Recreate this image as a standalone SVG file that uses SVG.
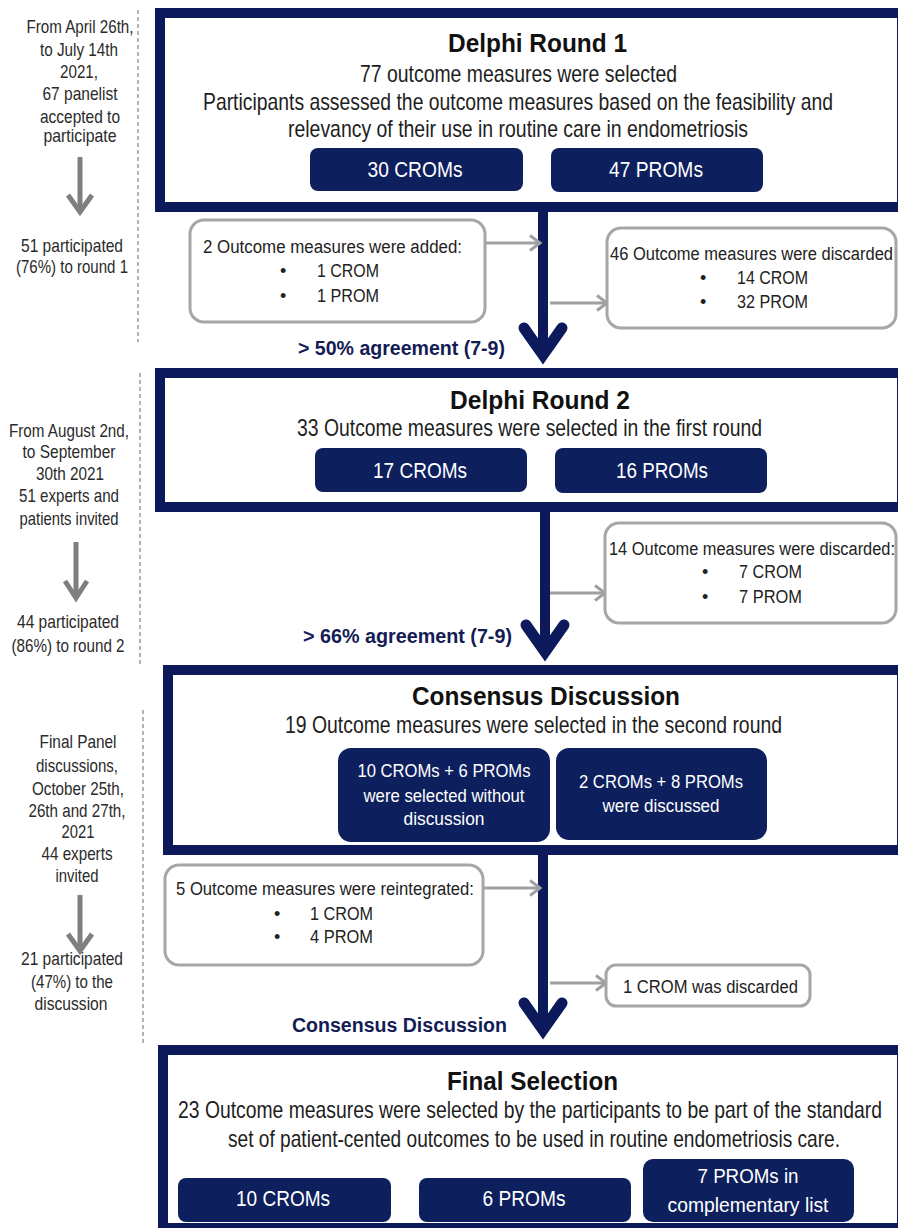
<svg xmlns="http://www.w3.org/2000/svg" width="898" height="1228" viewBox="0 0 898 1228">
<style>
text{font-family:"Liberation Sans",Arial,sans-serif}
.box{fill:#fff;stroke:#0c1a5b;stroke-width:10}
.side{fill:#fff;stroke:#a6a6a6;stroke-width:3}
.pill{fill:#0e1f5e}
.t{font-size:24px;fill:#1e1e1e}
.h{font-size:25px;font-weight:bold;fill:#111}
.s{font-size:18px;fill:#222}
.l{font-size:18.5px;fill:#2a2a2a;text-anchor:middle}
.pt{font-size:22px;fill:#fff;text-anchor:middle}
.pm{font-size:18px;fill:#fff;text-anchor:middle}
.lab{font-size:20px;font-weight:bold;fill:#131c55}
.dash{stroke:#9a9a9a;stroke-width:1.5;stroke-dasharray:4 3;fill:none}
.garr{stroke:#a0a0a0;stroke-width:3;fill:none;marker-end:url(#chev)}
.shaft{stroke:#0c1a5b;stroke-width:10;fill:none}
.vhead{stroke:#0c1a5b;stroke-width:11;fill:none;stroke-linecap:round;stroke-linejoin:miter;stroke-miterlimit:10}
.larr{stroke:#7f7f7f;stroke-width:5;fill:none}
</style>
<defs>
<marker id="chev" markerUnits="userSpaceOnUse" markerWidth="14" markerHeight="18" refX="11" refY="9" orient="auto">
<path d="M1,1.5 L11,9 L1,16.5" fill="none" stroke="#a0a0a0" stroke-width="3"/>
</marker>
</defs>
<rect width="898" height="1228" fill="#fff"/>

<g id="timeline">
<line class="dash" x1="138" y1="10" x2="138" y2="342"/>
<line class="dash" x1="140" y1="373" x2="140" y2="667"/>
<line class="dash" x1="143" y1="710" x2="143" y2="1045"/>
<text class="l" x="80" y="33" textLength="107" lengthAdjust="spacingAndGlyphs">From April 26th,</text>
<text class="l" x="79" y="56" textLength="78" lengthAdjust="spacingAndGlyphs">to July 14th</text>
<text class="l" x="79" y="78" textLength="38" lengthAdjust="spacingAndGlyphs">2021,</text>
<text class="l" x="80" y="100" textLength="75" lengthAdjust="spacingAndGlyphs">67 panelist</text>
<text class="l" x="80" y="123" textLength="80" lengthAdjust="spacingAndGlyphs">accepted to</text>
<text class="l" x="80" y="142" textLength="73" lengthAdjust="spacingAndGlyphs">participate</text>
<line class="larr" x1="80" y1="157" x2="80" y2="211"/>
<polyline class="larr" points="68,195 80,212 92,195"/>
<text class="l" x="72" y="252" textLength="102" lengthAdjust="spacingAndGlyphs">51 participated</text>
<text class="l" x="72" y="273" textLength="112" lengthAdjust="spacingAndGlyphs">(76%) to round 1</text>

<text class="l" x="69" y="437" textLength="120" lengthAdjust="spacingAndGlyphs">From August 2nd,</text>
<text class="l" x="69" y="458" textLength="93" lengthAdjust="spacingAndGlyphs">to September</text>
<text class="l" x="70" y="480" textLength="68" lengthAdjust="spacingAndGlyphs">30th 2021</text>
<text class="l" x="69" y="502" textLength="100" lengthAdjust="spacingAndGlyphs">51 experts and</text>
<text class="l" x="69" y="525" textLength="99" lengthAdjust="spacingAndGlyphs">patients invited</text>
<line class="larr" x1="76" y1="542" x2="76" y2="597"/>
<polyline class="larr" points="65,581 76,598 87,581"/>
<text class="l" x="68" y="628" textLength="102" lengthAdjust="spacingAndGlyphs">44 participated</text>
<text class="l" x="68" y="652" textLength="113" lengthAdjust="spacingAndGlyphs">(86%) to round 2</text>

<text class="l" x="78" y="748" textLength="77" lengthAdjust="spacingAndGlyphs">Final Panel</text>
<text class="l" x="77" y="772" textLength="82" lengthAdjust="spacingAndGlyphs">discussions,</text>
<text class="l" x="78" y="795" textLength="92" lengthAdjust="spacingAndGlyphs">October 25th,</text>
<text class="l" x="77" y="817" textLength="97" lengthAdjust="spacingAndGlyphs">26th and 27th,</text>
<text class="l" x="78" y="838" textLength="33" lengthAdjust="spacingAndGlyphs">2021</text>
<text class="l" x="77" y="860" textLength="71" lengthAdjust="spacingAndGlyphs">44 experts</text>
<text class="l" x="77" y="882" textLength="43" lengthAdjust="spacingAndGlyphs">invited</text>
<line class="larr" x1="80" y1="895" x2="80" y2="950"/>
<polyline class="larr" points="68,934 80,951 92,934"/>
<text class="l" x="72" y="965" textLength="102" lengthAdjust="spacingAndGlyphs">21 participated</text>
<text class="l" x="72" y="988" textLength="82" lengthAdjust="spacingAndGlyphs">(47%) to the</text>
<text class="l" x="71" y="1010" textLength="73" lengthAdjust="spacingAndGlyphs">discussion</text>
</g>

<g id="connectors">
<line class="shaft" x1="543" y1="207" x2="543" y2="352"/>
<polyline class="vhead" points="524,328 543,355 562,328"/>
<line class="shaft" x1="545" y1="507" x2="545" y2="649"/>
<polyline class="vhead" points="526,625 545,652 564,625"/>
<line class="shaft" x1="543" y1="850" x2="543" y2="1027"/>
<polyline class="vhead" points="524,1003 543,1030 562,1003"/>
<line class="garr" x1="485" y1="243" x2="540" y2="243"/>
<line class="garr" x1="550" y1="303" x2="607" y2="303"/>
<line class="garr" x1="550" y1="593" x2="605" y2="593"/>
<line class="garr" x1="483" y1="888" x2="540" y2="888"/>
<line class="garr" x1="550" y1="983" x2="606" y2="983"/>
<text class="lab" x="298" y="355" textLength="207" lengthAdjust="spacingAndGlyphs">&gt; 50% agreement (7-9)</text>
<text class="lab" x="303" y="643" textLength="209" lengthAdjust="spacingAndGlyphs">&gt; 66% agreement (7-9)</text>
<text class="lab" x="292" y="1032" textLength="215" lengthAdjust="spacingAndGlyphs">Consensus Discussion</text>
</g>

<g id="round1">
<rect class="box" x="160" y="13" width="742" height="194"/>
<text class="h" x="448" y="52" textLength="179" lengthAdjust="spacingAndGlyphs">Delphi Round 1</text>
<text class="t" x="360" y="82" textLength="317" lengthAdjust="spacingAndGlyphs">77 outcome measures were selected</text>
<text class="t" x="203" y="110" textLength="630" lengthAdjust="spacingAndGlyphs">Participants assessed the outcome measures based on the feasibility  and</text>
<text class="t" x="288" y="137" textLength="460" lengthAdjust="spacingAndGlyphs">relevancy of their use in routine care in endometriosis</text>
<rect class="pill" x="310" y="148" width="213" height="43" rx="8"/>
<text class="pt" x="415" y="177" textLength="95" lengthAdjust="spacingAndGlyphs">30 CROMs</text>
<rect class="pill" x="551" y="148" width="212" height="44" rx="8"/>
<text class="pt" x="656" y="177" textLength="94" lengthAdjust="spacingAndGlyphs">47 PROMs</text>
</g>

<g id="added1">
<rect class="side" x="190" y="220" width="295" height="102" rx="14"/>
<text class="s" x="203" y="253" textLength="259" lengthAdjust="spacingAndGlyphs">2 Outcome measures were added:</text>
<text class="s" x="280" y="277">•</text>
<text class="s" x="317" y="277" textLength="62" lengthAdjust="spacingAndGlyphs">1 CROM</text>
<text class="s" x="280" y="302">•</text>
<text class="s" x="317" y="302" textLength="62" lengthAdjust="spacingAndGlyphs">1 PROM</text>
</g>

<g id="discard1">
<rect class="side" x="607" y="228" width="289" height="100" rx="14"/>
<text class="s" x="610" y="260" textLength="283" lengthAdjust="spacingAndGlyphs">46 Outcome measures were discarded</text>
<text class="s" x="700" y="284">•</text>
<text class="s" x="737" y="284" textLength="71" lengthAdjust="spacingAndGlyphs">14 CROM</text>
<text class="s" x="700" y="308">•</text>
<text class="s" x="737" y="308" textLength="71" lengthAdjust="spacingAndGlyphs">32 PROM</text>
</g>

<g id="round2">
<rect class="box" x="160" y="373" width="742" height="134"/>
<text class="h" x="450" y="409" textLength="180" lengthAdjust="spacingAndGlyphs">Delphi Round 2</text>
<text class="t" x="297" y="436" textLength="465" lengthAdjust="spacingAndGlyphs">33 Outcome measures were selected in the first  round</text>
<rect class="pill" x="315" y="448" width="212" height="44" rx="8"/>
<text class="pt" x="420" y="478" textLength="94" lengthAdjust="spacingAndGlyphs">17 CROMs</text>
<rect class="pill" x="555" y="448" width="212" height="45" rx="8"/>
<text class="pt" x="662" y="478" textLength="92" lengthAdjust="spacingAndGlyphs">16 PROMs</text>
</g>

<g id="discard2">
<rect class="side" x="605" y="523" width="291" height="100" rx="14"/>
<text class="s" x="609" y="555" textLength="286" lengthAdjust="spacingAndGlyphs">14 Outcome measures were discarded:</text>
<text class="s" x="702" y="578">•</text>
<text class="s" x="739" y="578" textLength="63" lengthAdjust="spacingAndGlyphs">7 CROM</text>
<text class="s" x="702" y="603">•</text>
<text class="s" x="739" y="603" textLength="63" lengthAdjust="spacingAndGlyphs">7 PROM</text>
</g>

<g id="consensus">
<rect class="box" x="168" y="670" width="734" height="180"/>
<text class="h" x="412" y="705" textLength="268" lengthAdjust="spacingAndGlyphs">Consensus Discussion</text>
<text class="t" x="285" y="733" textLength="497" lengthAdjust="spacingAndGlyphs">19 Outcome measures were selected in the second round</text>
<rect class="pill" x="338" y="748" width="212" height="94" rx="13"/>
<text class="pm" x="444" y="777" textLength="173" lengthAdjust="spacingAndGlyphs">10 CROMs + 6 PROMs</text>
<text class="pm" x="444" y="802" textLength="161" lengthAdjust="spacingAndGlyphs">were selected without</text>
<text class="pm" x="444" y="825" textLength="81" lengthAdjust="spacingAndGlyphs">discussion</text>
<rect class="pill" x="556" y="748" width="211" height="92" rx="13"/>
<text class="pm" x="661" y="788" textLength="164" lengthAdjust="spacingAndGlyphs">2 CROMs + 8 PROMs</text>
<text class="pm" x="661" y="812" textLength="117" lengthAdjust="spacingAndGlyphs">were discussed</text>
</g>

<g id="reintegrated">
<rect class="side" x="165" y="865" width="318" height="100" rx="14"/>
<text class="s" x="176" y="895" textLength="298" lengthAdjust="spacingAndGlyphs">5 Outcome measures were reintegrated:</text>
<text class="s" x="274" y="920">•</text>
<text class="s" x="310" y="920" textLength="63" lengthAdjust="spacingAndGlyphs">1 CROM</text>
<text class="s" x="274" y="943">•</text>
<text class="s" x="310" y="943" textLength="63" lengthAdjust="spacingAndGlyphs">4 PROM</text>
</g>

<g id="discard3">
<rect class="side" x="606" y="965" width="204" height="41" rx="10"/>
<text class="s" x="623" y="993" textLength="175" lengthAdjust="spacingAndGlyphs">1 CROM was discarded</text>
</g>

<g id="final">
<rect class="box" x="163" y="1050" width="739" height="178"/>
<text class="h" x="447" y="1090" textLength="171" lengthAdjust="spacingAndGlyphs">Final Selection</text>
<text class="t" x="178" y="1118" textLength="704" lengthAdjust="spacingAndGlyphs">23 Outcome measures were selected by the participants to be part of the standard</text>
<text class="t" x="228" y="1147" textLength="612" lengthAdjust="spacingAndGlyphs">set of patient-cented outcomes to be used in routine endometriosis care.</text>
<rect class="pill" x="178" y="1178" width="213" height="44" rx="8"/>
<text class="pt" x="283" y="1206" textLength="94" lengthAdjust="spacingAndGlyphs">10 CROMs</text>
<rect class="pill" x="419" y="1178" width="212" height="44" rx="8"/>
<text class="pt" x="524" y="1206" textLength="83" lengthAdjust="spacingAndGlyphs">6 PROMs</text>
<rect class="pill" x="643" y="1159" width="211" height="63" rx="10"/>
<text class="pm" x="748" y="1183" style="font-size:19.5px" textLength="101" lengthAdjust="spacingAndGlyphs">7 PROMs in</text>
<text class="pm" x="748" y="1212" style="font-size:19.5px" textLength="161" lengthAdjust="spacingAndGlyphs">complementary list</text>
</g>
</svg>
